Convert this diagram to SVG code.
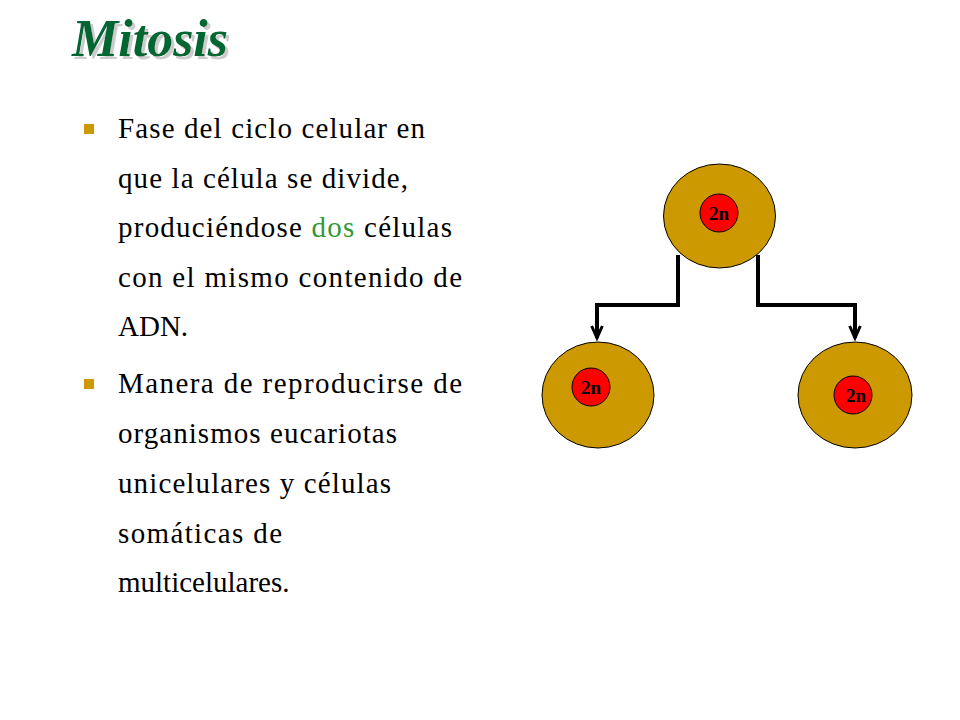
<svg xmlns="http://www.w3.org/2000/svg" width="960" height="720" viewBox="0 0 960 720">
<defs>
<style>
.t{font-family:"Liberation Serif",serif;font-size:29px;fill:#000}
.cell{fill:#CC9900;stroke:#000;stroke-width:1}
.nuc{fill:#FF0000;stroke:#000;stroke-width:1}
.nl{font-family:"Liberation Serif",serif;font-size:19px;font-weight:bold;fill:#000;text-anchor:middle}
.c{fill:none;stroke:#000;stroke-width:4}
</style>
<filter id="sh" x="-10%" y="-10%" width="130%" height="140%">
<feOffset dx="3" dy="3" in="SourceAlpha" result="o"/>
<feFlood flood-color="#cccccc"/>
<feComposite in2="o" operator="in" result="s"/>
<feMerge><feMergeNode in="s"/><feMergeNode in="SourceGraphic"/></feMerge>
</filter>
<marker id="ah" viewBox="0 0 12 10" refX="10" refY="5" markerWidth="4" markerHeight="4" orient="auto" markerUnits="strokeWidth">
<path d="M1,1 L10,5 L1,9" fill="none" stroke="#000" stroke-width="2.2"/>
</marker>
</defs>
<rect width="960" height="720" fill="#fff"/>
<text x="72" y="56" font-family="Liberation Serif,serif" font-size="52" font-weight="bold" font-style="italic" fill="#006633" filter="url(#sh)">Mitosis</text>
<rect x="84" y="124" width="10" height="10" fill="#CC9900"/>
<rect x="84" y="379" width="10" height="10" fill="#CC9900"/>
<text class="t" x="118" y="138" textLength="307" lengthAdjust="spacing">Fase del ciclo celular en</text>
<text class="t" x="118" y="188" textLength="290" lengthAdjust="spacing">que la célula se divide,</text>
<text class="t" x="118" y="237" textLength="334" lengthAdjust="spacing">produciéndose <tspan fill="#339933">dos</tspan> células</text>
<text class="t" x="118" y="287" textLength="344" lengthAdjust="spacing">con el mismo contenido de</text>
<text class="t" x="118" y="336">ADN.</text>
<text class="t" x="118" y="393" textLength="344" lengthAdjust="spacing">Manera de reproducirse de</text>
<text class="t" x="118" y="443" textLength="279" lengthAdjust="spacing">organismos eucariotas</text>
<text class="t" x="118" y="493" textLength="273" lengthAdjust="spacing">unicelulares y células</text>
<text class="t" x="118" y="543" textLength="164" lengthAdjust="spacing">somáticas de</text>
<text class="t" x="118" y="592">multicelulares.</text>
<g id="connectors">
<path class="c" d="M678,255 V305 H597 V338" marker-end="url(#ah)"/>
<path class="c" d="M758,255 V305 H855 V338" marker-end="url(#ah)"/>
</g>
<g id="parent">
<ellipse class="cell" cx="719.5" cy="216" rx="56" ry="52"/>
<circle class="nuc" cx="719" cy="213" r="19"/>
<text class="nl" x="719" y="220">2n</text>
</g>
<g id="child-left">
<ellipse class="cell" cx="598" cy="395" rx="56" ry="53"/>
<circle class="nuc" cx="591" cy="387" r="19"/>
<text class="nl" x="591" y="394">2n</text>
</g>
<g id="child-right">
<ellipse class="cell" cx="855" cy="395" rx="57" ry="53"/>
<circle class="nuc" cx="853" cy="395" r="19"/>
<text class="nl" x="856" y="402">2n</text>
</g>
</svg>
